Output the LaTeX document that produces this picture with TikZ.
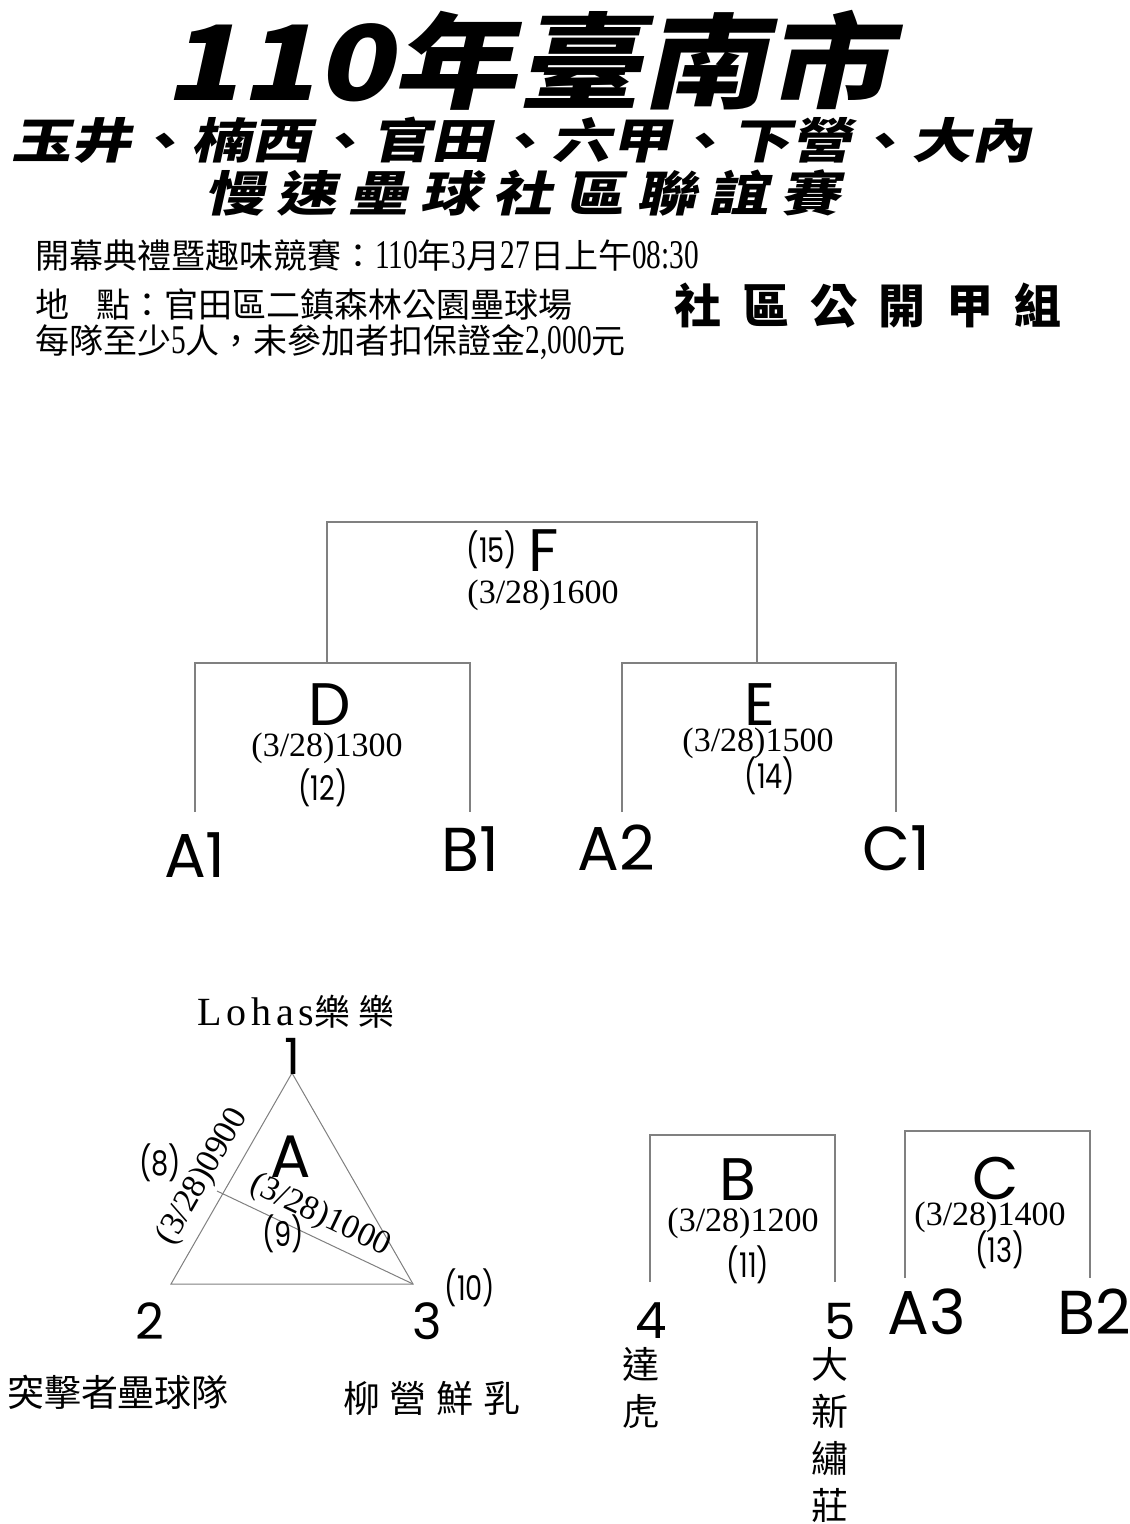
\documentclass[tikz,border=0pt]{standalone}
\usepackage{fontspec}
\setmainfont{Liberation Serif}
\newfontfamily\cjk{Noto Sans CJK TC}
\newfontfamily\titlecjk{Noto Sans CJK TC}[FakeSlant=0.22,FakeStretch=1.2]
\newfontfamily\subcjk{Noto Sans CJK TC}[FakeSlant=0.22,FakeStretch=1.25]
\newfontfamily\geo{Poppins}
\newfontfamily\geon{Poppins}[FakeStretch=0.8]
\newfontfamily\dig{Liberation Serif}[FakeStretch=0.72,Scale=1.2]
\newfontfamily\datef{Liberation Serif}
\definecolor{linegray}{HTML}{808080}
\tikzset{
  lbl/.style={inner sep=0pt, outer sep=0pt, text=black},
  bigl/.style={lbl, font=\geo\fontsize{60}{60}\selectfont},
  teaml/.style={lbl, font=\geo\fontsize{62}{62}\selectfont},
  datel/.style={lbl, font=\datef\fontsize{34}{34}\selectfont},
  numl/.style={lbl, font=\geon\fontsize{34}{34}\selectfont},
  vertl/.style={lbl, font=\geo\fontsize{50}{50}\selectfont},
  namel/.style={lbl, font=\cjk\fontsize{37}{47}\selectfont, align=center},
  infol/.style={lbl, anchor=west, font=\cjk\fontsize{34}{34}\selectfont},
  br/.style={draw=linegray, line width=1.4pt},
}
\begin{document}
\begin{tikzpicture}[x=1pt,y=-1pt]
\useasboundingbox (0,0) rectangle (1130,1524);
\fill[white] (0,0) rectangle (1130,1524);

% ---------- titles ----------
\node[lbl, font=\titlecjk\bfseries\fontsize{104}{104}\selectfont] (t1) at (528,60) {110年臺南市};
\node[lbl, font=\subcjk\bfseries\fontsize{48}{48}\selectfont] (t2) at (522,140) {玉井、楠西、官田、六甲、下營、大內};
\node[lbl, font=\subcjk\bfseries\fontsize{48}{48}\selectfont] (t3) at (522,193)
  {慢\hspace{12pt}速\hspace{12pt}壘\hspace{12pt}球\hspace{12pt}社\hspace{12pt}區\hspace{12pt}聯\hspace{12pt}誼\hspace{12pt}賽};
\node[lbl, font=\cjk\bfseries\fontsize{47}{47}\selectfont] (grp) at (868,306)
  {社\hspace{21pt}區\hspace{21pt}公\hspace{21pt}開\hspace{21pt}甲\hspace{21pt}組};

\node[infol] (i1) at (35,256) {開幕典禮暨趣味競賽：{\dig 110}年{\dig 3}月{\dig 27}日上午{\dig 08:30}};
\node[infol] (i2) at (35,305) {地\hspace{28pt}點：官田區二鎮森林公園壘球場};
\node[infol] (i3) at (35,342) {每隊至少{\dig 5}人，未參加者扣保證金{\dig 2,000}元};

% ---------- knockout bracket ----------
\coordinate (fL) at (327,522); \coordinate (fR) at (757,522);
\coordinate (dT) at (327,663); \coordinate (eT) at (757,663);
\coordinate (dL) at (195,663); \coordinate (dR) at (470,663);
\coordinate (eL) at (622,663); \coordinate (eR) at (896,663);
\coordinate (a1T) at (195,812); \coordinate (b1T) at (470,812);
\coordinate (a2T) at (622,812); \coordinate (c1T) at (896,812);

\draw[br] (dT) -- (fL) -- (fR) -- (eT);
\draw[br] (a1T) -- (dL) -- (dR) -- (b1T);
\draw[br] (a2T) -- (eL) -- (eR) -- (c1T);

\node[numl] (n15) at (492,550) {(15)};
\node[bigl] (F) at (544,551) {F};
\node[datel] (dF) at (543,595) {(3/28)1600};

\node[bigl] (D) at (330,705) {D};
\node[datel] (dD) at (327,748) {(3/28)1300};
\node[numl] (n12) at (323,788) {(12)};

\node[bigl] (E) at (760,705) {E};
\node[datel] (dE) at (758,743) {(3/28)1500};
\node[numl] (n14) at (770,776) {(14)};

\node[teaml] (A1) at (195,855) {A1};
\node[teaml] (B1) at (470,849) {B1};
\node[teaml] (A2) at (616,848) {A2};
\node[teaml] (C1) at (896,848) {C1};

% ---------- group A (triangle) ----------
\coordinate (v1) at (292,1073);
\coordinate (v2) at (171,1284);
\coordinate (v3) at (413,1284);
\coordinate (pin) at (217,1191);
\draw[br, line width=1pt] (v1) -- (v2) -- (v3) -- cycle;
\draw[br, line width=1pt] (pin) -- (v3);

\node[lbl, font=\datef\fontsize{40}{40}\selectfont] (loh) at (296,1012)
  {\addfontfeature{LetterSpace=12}Lohas{\cjk\fontsize{36}{36}\selectfont 樂\hspace{8pt}樂}};
\node[vertl] (t1n) at (292,1056) {1};
\node[bigl] (Ag) at (291,1157) {A};
\node[numl] (n8) at (160,1163) {(8)};
\node[datel, rotate=60.2] (d9) at (203,1177) {(3/28)0900};
\node[datel, rotate=-25.4] (d10) at (320,1216) {(3/28)1000};
\node[numl] (n9) at (283,1234) {(9)};
\node[numl] (n10) at (470,1288) {(10)};
\node[vertl] (t2n) at (150,1321) {2};
\node[vertl] (t3n) at (427,1321) {3};
\node[namel] (nm2) at (118,1392) {突擊者壘球隊};
\node[namel] (nm3) at (432,1398) {柳\hspace{10pt}營\hspace{10pt}鮮\hspace{10pt}乳};

% ---------- group B ----------
\coordinate (bL) at (650,1135); \coordinate (bR) at (835,1135);
\coordinate (b4) at (650,1282); \coordinate (b5) at (835,1282);
\draw[br] (b4) -- (bL) -- (bR) -- (b5);
\node[bigl] (Bg) at (738,1180) {B};
\node[datel] (dB) at (743,1223) {(3/28)1200};
\node[numl] (n11) at (748,1265) {(11)};
\node[vertl] (t4n) at (651,1321) {4};
\node[vertl] (t5n) at (840,1321) {5};
\node[namel, anchor=north] (nm4) at (641,1347) {達\\虎};
\node[namel, anchor=north] (nm5) at (830,1347) {大\\新\\繡\\莊};

% ---------- group C ----------
\coordinate (cL) at (905,1131); \coordinate (cR) at (1090,1131);
\coordinate (cA) at (905,1278); \coordinate (cB) at (1090,1278);
\draw[br] (cA) -- (cL) -- (cR) -- (cB);
\node[bigl] (Cg) at (996,1178) {C};
\node[datel] (dC) at (990,1217) {(3/28)1400};
\node[numl] (n13) at (1000,1250) {(13)};
\node[teaml] (A3) at (927,1312) {A3};
\node[teaml] (B2) at (1094,1312) {B2};
\end{tikzpicture}
\end{document}
